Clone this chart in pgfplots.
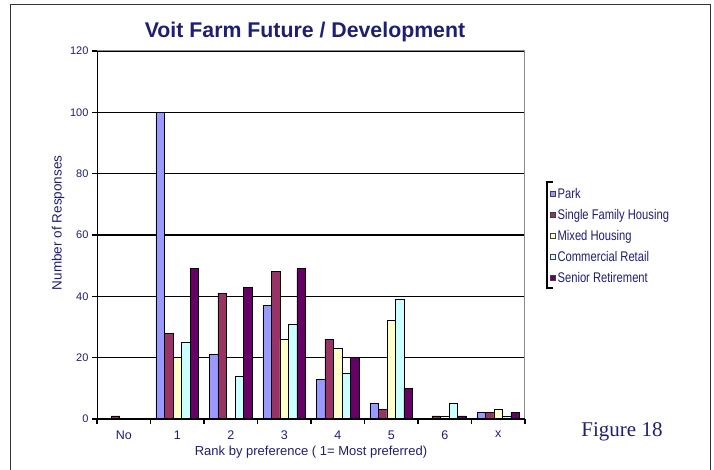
\documentclass[border=0pt]{standalone}
\usepackage{pgfplots}
\pgfplotsset{compat=1.18}
\usepackage{pgfplotstable}
\usepackage{fontspec}
\setmainfont{Liberation Sans}
\newfontfamily\narrowfont[FakeStretch=0.8]{Liberation Sans}
\newfontfamily\seriffont{Liberation Serif}
\definecolor{navy}{RGB}{30,30,115}
\definecolor{cPark}{RGB}{153,153,255}
\definecolor{cSFH}{RGB}{153,51,102}
\definecolor{cMixed}{RGB}{255,255,204}
\definecolor{cComm}{RGB}{204,255,255}
\definecolor{cSenior}{RGB}{102,0,102}

\pgfplotstableread{
cat Park SFH Mixed Comm Senior
0   0    1   0     0    0
1   100  28  20    25   49
2   21   41  0     14   43
3   37   48  26    31   49
4   13   26  23    15   20
5   5    3   32    39   10
6   0    1   1     5    1
7   2    2   3     1    2
}\datatable

\begin{document}
\begin{tikzpicture}
\useasboundingbox (0pt,0pt) rectangle (714pt,470pt);
% outer frame
\draw[line width=1pt, black!80] (10pt,0pt) -- (10pt,465pt) -- (710pt,465pt) -- (710pt,0pt);
\begin{axis}[
  at={(97pt,51pt)}, anchor=south west,
  scale only axis, width=428pt, height=368pt,
  xmin=-0.5, xmax=7.5, ymin=0, ymax=120,
  ybar=0pt, bar width=8.5pt,
  ytick={0,20,...,120},
  xtick={0,...,7},
  xticklabels={No,1,2,3,4,5,6,x},
  minor xtick={-0.5,0.5,...,7.5},
  major x tick style={draw=none},
  minor x tick style={black, line width=1.2pt},
  y tick style={black, line width=1.2pt},
  tick align=outside,
  major tick length=5pt, minor tick length=5pt,
  xtick pos=bottom, ytick pos=left,
  ymajorgrids,
  grid style={black, line width=1.3pt},
  axis line style={black!45, line width=1pt},
  /pgf/number format/assume math mode=true,
  yticklabel style={font=\fontsize{11}{12}\selectfont, text=navy},
  xticklabel style={font=\fontsize{12.5}{14}\selectfont, text=navy, yshift=-3pt},
  xlabel={Rank by preference ( 1= Most preferred)},
  xlabel style={at={(axis description cs:0.5,-0.09)}, anchor=center, font=\fontsize{13}{15}\selectfont, text=navy},
  ylabel={Number of Responses},
  ylabel style={at={(axis description cs:-0.091,0.533)}, anchor=center, rotate=0, font=\fontsize{13.5}{15}\selectfont, text=navy},
  legend style={at={(axis description cs:1.057,0.632)}, anchor=north west, draw=none, fill=none,
    font=\narrowfont\fontsize{14}{15}\selectfont, text=navy, row sep=5.3pt,
    inner sep=0pt, nodes={inner sep=2pt}, cells={anchor=west}},
  legend image code/.code={\draw[#1, draw=black!75, line width=1pt] (0.5pt,-2.5pt) rectangle (5.5pt,2.5pt);},
  every axis plot/.append style={draw=black, line width=0.8pt},
]
\addplot[fill=cPark] table[x=cat,y=Park] {\datatable};
\addplot[fill=cSFH] table[x=cat,y=SFH] {\datatable};
\addplot[fill=cMixed] table[x=cat,y=Mixed] {\datatable};
\addplot[fill=cComm] table[x=cat,y=Comm] {\datatable};
\addplot[fill=cSenior] table[x=cat,y=Senior] {\datatable};
\legend{Park,Single Family Housing,Mixed Housing,Commercial Retail,Senior Retirement}
\draw[black, line width=1.5pt] (rel axis cs:0,0) -- (rel axis cs:0,1);
\draw[black, line width=1.5pt] (rel axis cs:0,0) -- (rel axis cs:1,0);
\end{axis}
% legend bracket
\draw[line width=1.3pt, black] (553pt,288pt) -- (547pt,288pt) -- (547pt,182pt) -- (553pt,182pt);
% title
\node[font=\bfseries\fontsize{21.3}{24}\selectfont, text=navy] at (305pt,438pt) {Voit Farm Future / Development};
\node[font=\seriffont\fontsize{21}{24}\selectfont, text=navy] at (622pt,38pt) {Figure 18};
\end{tikzpicture}
\end{document}
